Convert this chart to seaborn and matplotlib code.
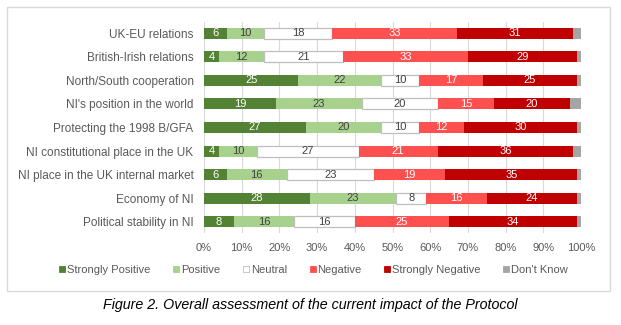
import numpy as np
import pandas as pd
import matplotlib
matplotlib.use("Agg")
import matplotlib.pyplot as plt
from matplotlib.lines import Line2D
from matplotlib.patches import Rectangle
import seaborn as sns

categories = ["UK-EU relations", "British-Irish relations", "North/South cooperation",
              "NI's position in the world", "Protecting the 1998 B/GFA",
              "NI constitutional place in the UK", "NI place in the UK internal market",
              "Economy of NI", "Political stability in NI"]
strongly_positive = [6, 4, 25, 19, 27, 4, 6, 28, 8]
positive = [10, 12, 22, 23, 20, 10, 16, 23, 16]
neutral = [18, 21, 10, 20, 10, 27, 23, 8, 16]
negative = [33, 33, 17, 15, 12, 21, 19, 16, 25]
strongly_negative = [31, 29, 25, 20, 30, 36, 35, 24, 34]
dont_know = [2, 1, 1, 3, 1, 2, 1, 1, 1]
series_names = ["Strongly Positive", "Positive", "Neutral", "Negative",
                "Strongly Negative", "Don't Know"]
tick_labels = ["0%", "10%", "20%", "30%", "40%", "50%", "60%", "70%", "80%", "90%", "100%"]

series = [strongly_positive, positive, neutral, negative, strongly_negative, dont_know]
colors = ["#548235", "#A9D18E", "#FFFFFF", "#FF5050", "#C00000", "#A5A5A5"]
edges = [None, None, "#BFBFBF", None, None, None]
text_colors = ["white", "#404040", "#404040", "white", "white", None]

sns.set_theme(style="white")
plt.rcParams["font.family"] = ["Liberation Sans", "DejaVu Sans"]

fig = plt.figure(figsize=(6.21, 3.25), dpi=100)
ax = fig.add_axes([204 / 621, 1 - 233 / 325, 377 / 621, 211 / 325])

left = np.zeros(len(categories))
for name, vals, col, ec, tc in zip(series_names, series, colors, edges, text_colors):
    df = pd.DataFrame({"category": categories, "value": vals})
    kw = dict(edgecolor=ec, linewidth=0.9) if ec else dict(linewidth=0)
    sns.barplot(data=df, x="value", y="category", order=categories, orient="h",
                color=col, saturation=1, width=0.47, left=left, ax=ax, **kw)
    cont = ax.containers[-1]
    if tc is not None:
        ax.bar_label(cont, labels=[str(v) for v in vals], label_type="center",
                     color=tc, fontsize=8)
    left = left + np.array(vals)

ax.set_xlim(0, 100)
ax.set_ylim(8.47, -0.47)
ax.set_xticks(np.arange(0, 101, 10))
ax.set_xticklabels(tick_labels)
ax.set_xlabel("")
ax.set_ylabel("")
ax.xaxis.grid(True, color="#D9D9D9", linewidth=0.8)
ax.set_axisbelow(True)
for s in ax.spines.values():
    s.set_visible(False)
ax.tick_params(axis="x", length=0, pad=7, labelsize=8, labelcolor="#595959")
ax.tick_params(axis="y", length=0, pad=7.5, labelsize=8.5, labelcolor="#595959")

handles = []
for col, ec in zip(colors, edges):
    handles.append(Line2D([0], [0], marker="s", linestyle="none", markersize=4.5,
                          markerfacecolor=col, markeredgecolor=ec if ec else col,
                          markeredgewidth=0.6))
leg = fig.legend(handles, series_names, loc="center", bbox_to_anchor=(0.505, 1 - 270 / 325),
                 ncol=6, frameon=False, fontsize=8, handlelength=0.6, handletextpad=0.15,
                 columnspacing=2.0, borderaxespad=0)
for t in leg.get_texts():
    t.set_color("#595959")

fig.patches.append(Rectangle((7 / 621, 1 - 291 / 325), 603 / 621, 284.5 / 325,
                             transform=fig.transFigure, fill=False,
                             edgecolor="#D9D9D9", linewidth=1.0))

fig.text(0.5, 1 - 305 / 325, "Figure 2. Overall assessment of the current impact of the Protocol",
         ha="center", va="center", fontsize=10.3, style="italic", color="black")

fig.savefig("out.png", dpi=100)
